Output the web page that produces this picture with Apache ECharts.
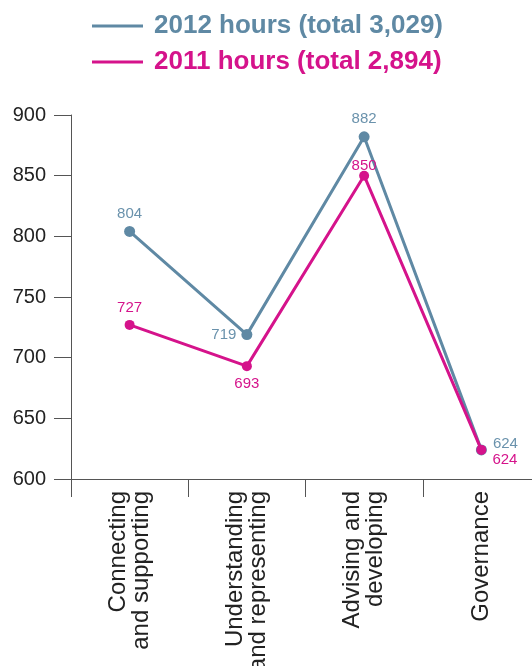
<!DOCTYPE html>
<html>
<head>
<meta charset="utf-8">
<script src="https://cdn.jsdelivr.net/npm/echarts@6/dist/echarts.min.js"></script>
<style>html,body{margin:0;padding:0;background:#fff;}#c{width:532px;height:666px;}</style>
</head>
<body>
<div id="c"></div>
<script>
var categories = ['Connecting\nand supporting', 'Understanding\nand representing', 'Advising and\ndeveloping', 'Governance'];
var hours2012 = [804, 719, 882, 624];
var hours2011 = [727, 693, 850, 624];
var seriesNames = ['2012 hours (total 3,029)', '2011 hours (total 2,894)'];
var yTicks = { min: 600, max: 900, interval: 50 };

var C12 = '#5f89a4', C11 = '#d5138b';
var FF = '"Liberation Sans", Arial, sans-serif';

var lab12 = [
  { position: 'top', distance: 5 },
  { position: 'left', distance: 5 },
  { position: 'top', distance: 5 },
  { position: 'right', distance: 6, offset: [0, -6] }
];
var lab11 = [
  { position: 'top', distance: 5 },
  { position: 'bottom', distance: 5 },
  { position: 'top', distance: -3 },
  { position: 'right', distance: 6, offset: [0, 10] }
];
function mk(vals, labs) {
  return vals.map(function (v, i) { return { value: v, label: labs[i] }; });
}

var chart = echarts.init(document.getElementById('c'));
chart.setOption({
  animation: false,
  textStyle: { fontFamily: FF },
  legend: {
    orient: 'vertical', left: 92, top: 11, itemGap: 6, padding: 0,
    itemWidth: 51, itemHeight: 3, icon: 'rect',
    data: [
      { name: seriesNames[0], textStyle: { color: C12 } },
      { name: seriesNames[1], textStyle: { color: C11 } }
    ],
    textStyle: { fontSize: 26, fontWeight: 'bold', fontFamily: FF, lineHeight: 30, padding: [0, 0, 0, 6] }
  },
  grid: { left: 71, width: 469, top: 115, height: 364, containLabel: false, outerBoundsMode: 'none' },
  xAxis: {
    type: 'category', data: categories, boundaryGap: true,
    axisLine: { lineStyle: { color: '#555', width: 1 } },
    axisTick: { show: true, length: 18, interval: 0, lineStyle: { color: '#555' } },
    axisLabel: { rotate: 90, interval: 0, fontSize: 24, lineHeight: 23, margin: 12, color: '#222', fontFamily: FF }
  },
  yAxis: {
    type: 'value', min: yTicks.min, max: yTicks.max, interval: yTicks.interval,
    axisLine: { show: true, lineStyle: { color: '#555', width: 1 } },
    axisTick: { show: true, length: 17, lineStyle: { color: '#555' } },
    splitLine: { show: false },
    axisLabel: { fontSize: 20, margin: 25, color: '#222', fontFamily: FF }
  },
  series: [
    {
      name: seriesNames[0], type: 'line', data: mk(hours2012, lab12), z: 2,
      symbol: 'circle', symbolSize: 11,
      itemStyle: { color: C12 }, lineStyle: { color: C12, width: 3 },
      label: { show: true, color: '#6a92ac', fontSize: 15, fontFamily: FF }
    },
    {
      name: seriesNames[1], type: 'line', data: mk(hours2011, lab11), z: 3,
      symbol: 'circle', symbolSize: 10,
      itemStyle: { color: C11 }, lineStyle: { color: C11, width: 3 },
      label: { show: true, color: C11, fontSize: 15, fontFamily: FF }
    }
  ]
});
</script>
</body>
</html>
